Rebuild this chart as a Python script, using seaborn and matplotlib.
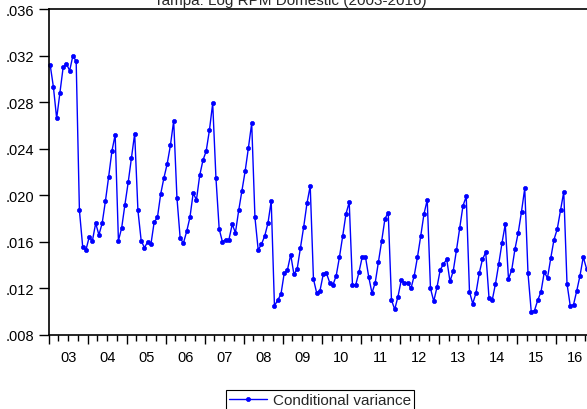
import numpy as np
import pandas as pd
import matplotlib
matplotlib.use("Agg")
import matplotlib.pyplot as plt
from matplotlib.ticker import FuncFormatter, MultipleLocator
import seaborn as sns

# INPUTS
START_YEAR = 2003
TITLE = "Tampa: Log RPM Domestic (2003-2016)"
SERIES_LABEL = "Conditional variance"

# monthly conditional variance, Jan 2003 onwards
VARIANCE = [
    .0312, .0293, .0266, .0288, .0310, .0313, .0307, .0320, .0315, .0187, .0156, .0153,  # 2003
    .0164, .0161, .0176, .0166, .0176, .0195, .0216, .0238, .0252, .0161, .0172, .0192,  # 2004
    .0211, .0232, .0253, .0187, .0161, .0155, .0160, .0158, .0177, .0181, .0201, .0215,  # 2005
    .0227, .0243, .0264, .0198, .0163, .0159, .0169, .0181, .0202, .0196, .0217, .0230,  # 2006
    .0238, .0256, .0279, .0215, .0171, .0160, .0162, .0162, .0175, .0168, .0187, .0204,  # 2007
    .0221, .0241, .0262, .0181, .0153, .0158, .0165, .0176, .0195, .0105, .0110, .0115,  # 2008
    .0133, .0136, .0149, .0132, .0137, .0155, .0173, .0193, .0208, .0128, .0116, .0118,  # 2009
    .0132, .0133, .0125, .0123, .0131, .0147, .0165, .0184, .0194, .0123, .0123, .0134,  # 2010
    .0147, .0147, .0130, .0116, .0125, .0143, .0161, .0180, .0185, .0110, .0102, .0113,  # 2011
    .0127, .0125, .0125, .0120, .0131, .0147, .0165, .0184, .0196, .0120, .0109, .0121,  # 2012
    .0136, .0141, .0145, .0126, .0135, .0153, .0172, .0191, .0199, .0117, .0107, .0116,  # 2013
    .0133, .0145, .0151, .0112, .0110, .0124, .0141, .0159, .0175, .0128, .0136, .0154,  # 2014
    .0168, .0186, .0206, .0133, .0100, .0101, .0110, .0117, .0134, .0129, .0146, .0162,  # 2015
    .0171, .0187, .0203, .0124, .0105, .0106, .0118, .0131, .0147, .0137,                # 2016
]
Y_TICKS = [.008, .012, .016, .020, .024, .028, .032, .036]


def build_frame(values, start_year):
    """Monthly series on a decimal-year axis (mid-month)."""
    months = np.arange(len(values))
    return pd.DataFrame({
        "t": start_year + (months + 0.45) / 12.0,
        "value": values,
    })


def plot_variance(data):
    fig = plt.figure(figsize=(5.87, 4.10), dpi=100)
    left = 48.7 / 587
    bottom = 1 - 336 / 410
    top = 1 - 10 / 410
    ax = fig.add_axes([left, bottom, 1 - left, top - bottom])

    sns.lineplot(
        data=data, x="t", y="value", ax=ax,
        color="#0000ff", linewidth=1.0,
        marker="o", markersize=5.3, markeredgecolor="#0000ff", markeredgewidth=0.5,
        label=SERIES_LABEL,
    )
    for line in ax.lines:
        line.set_clip_on(False)

    ax.set_xlim(START_YEAR, START_YEAR + 165.6 / 12)
    ax.set_ylim(Y_TICKS[0], Y_TICKS[-1])
    ax.set_yticks(Y_TICKS)
    ax.yaxis.set_major_formatter(FuncFormatter(lambda v, p: f"{v:.3f}".lstrip("0")))

    ax.xaxis.set_major_locator(MultipleLocator(1))
    ax.xaxis.set_major_formatter(FuncFormatter(lambda v, p: ""))
    ax.xaxis.set_minor_locator(MultipleLocator(0.25))
    ax.xaxis.set_minor_formatter(FuncFormatter(
        lambda v, p: f"{int(v) % 100:02d}" if abs(v % 1 - 0.5) < 1e-6 else ""))

    ax.tick_params(axis="x", which="both", bottom=True, top=False)
    ax.tick_params(axis="y", which="both", left=True, right=False)
    ax.tick_params(axis="x", which="major", direction="out", length=6.5, width=1.0,
                   color="black")
    ax.tick_params(axis="x", which="minor", direction="out", length=4, width=1.0,
                   color="black", pad=6.5, labelsize=10.5, labelcolor="black")
    ax.tick_params(axis="y", direction="out", length=7, width=1.0, pad=3.5,
                   color="black", labelsize=10.5, labelcolor="black")

    ax.set_xlabel("")
    ax.set_ylabel("")
    for side in ["left", "bottom", "top"]:
        ax.spines[side].set_color("black")
        ax.spines[side].set_linewidth(1.2)
    ax.spines["right"].set_visible(False)

    ax.get_legend().remove()
    handles, labels = ax.get_legend_handles_labels()
    for h in handles:
        h.set_markersize(3)
    leg = fig.legend(
        handles, labels, loc="center", bbox_to_anchor=(320 / 587, 1 - 401 / 410),
        frameon=True, fancybox=False, edgecolor="black", framealpha=1,
        fontsize=11, handlelength=2.5, borderpad=0.2, handletextpad=0.4,
    )
    leg.get_frame().set_linewidth(0.8)

    fig.text(290 / 587, 1 - 4.5 / 410, TITLE, ha="center", va="baseline", fontsize=11)
    return fig


if __name__ == "__main__":
    sns.set_theme(style="white")
    plt.rcParams["font.family"] = ["Liberation Sans", "DejaVu Sans"]
    frame = build_frame(VARIANCE, START_YEAR)
    fig = plot_variance(frame)
    fig.savefig("out.png", dpi=100)
    plt.close(fig)
